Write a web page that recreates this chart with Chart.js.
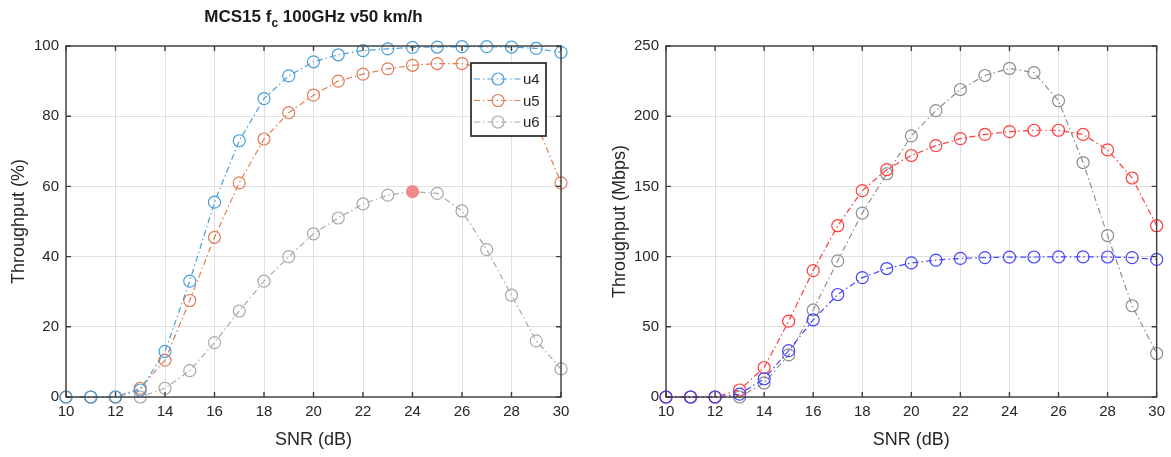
<!DOCTYPE html>
<html lang="en">
<head>
<meta charset="UTF-8">
<title>MCS15 fc 100GHz v50 km/h</title>
<script src="https://cdn.jsdelivr.net/npm/chart.js"></script>
<style>
  body {
    margin: 0;
    background: #fff;
    width: 1171px;
    height: 457px;
    overflow: hidden;
    position: relative;
  }
  .panel { position: absolute; top: 0; height: 457px; }
  #leftPanel { left: 0; width: 590px; }
  #rightPanel { left: 600px; width: 571px; }
</style>
</head>
<body>
<div class="panel" id="leftPanel"><canvas id="pctChart" width="590" height="457"></canvas></div>
<div class="panel" id="rightPanel"><canvas id="mbpsChart" width="571" height="457"></canvas></div>

<script>
// x values (SNR in dB) and tick labels
const snr = [10, 11, 12, 13, 14, 15, 16, 17, 18, 19, 20, 21, 22, 23, 24, 25, 26, 27, 28, 29, 30];
const xTicks = [10, 12, 14, 16, 18, 20, 22, 24, 26, 28, 30];
const pctTicks = [0, 20, 40, 60, 80, 100];
const mbpsTicks = [0, 50, 100, 150, 200, 250];

// left plot: throughput (%)
const u4 = [0, 0, 0, 2, 13, 33, 55.5, 73, 85, 91.5, 95.5, 97.5, 98.7, 99.2, 99.6, 99.7, 99.8, 99.8, 99.7, 99.3, 98.2];
const u5 = [0, 0, 0, 2.5, 10.5, 27.5, 45.5, 61, 73.5, 81, 86, 90, 92, 93.5, 94.5, 95, 95, 93.5, 88, 78, 61];
const u6 = [0, 0, 0, 0, 2.5, 7.5, 15.5, 24.5, 33, 40, 46.5, 51, 55, 57.5, 58.5, 58, 53, 42, 29, 16, 8];
const u6Marked = 24; // highlighted data point

// right plot: throughput (Mbps)
const blueMbps = [0, 0, 0, 2, 13, 33, 55, 73, 85, 91.5, 95.5, 97.5, 98.7, 99.3, 99.6, 99.7, 99.8, 99.8, 99.7, 99.3, 98];
const redMbps = [0, 0, 0, 5, 21, 54, 90, 122, 147, 162, 172, 179, 184, 187, 189, 190, 190, 187, 176, 156, 122];
const grayMbps = [0, 0, 0, 0, 10, 30, 62, 97, 131, 159, 186, 204, 219, 229, 234, 231, 211, 167, 115, 65, 31];

const FONT = "'Liberation Sans', Arial, sans-serif";
const TEXT = '#262626';
const DASHDOT = [6, 3, 1.5, 3];

Chart.defaults.font.family = FONT;
Chart.defaults.color = TEXT;

function series(label, values, color, extra) {
  return Object.assign({
    label: label,
    data: snr.map((x, i) => ({ x: x, y: values[i] })),
    borderColor: color,
    borderWidth: 1.2,
    borderDash: DASHDOT,
    tension: 0,
    pointStyle: 'circle',
    pointRadius: 6,
    pointBorderWidth: 1.2,
    pointBorderColor: color,
    pointBackgroundColor: 'rgba(0,0,0,0)',
    clip: false
  }, extra || {});
}

function scales(yTicks, yTitle, yTitlePad) {
  return {
    x: {
      type: 'linear',
      min: snr[0],
      max: snr[snr.length - 1],
      afterBuildTicks: s => { s.ticks = xTicks.map(v => ({ value: v })); },
      afterFit: s => { s.height = 60; },
      grid: { color: '#e0e0e0', drawTicks: false },
      border: { display: false },
      ticks: { padding: 6, font: { size: 15 }, color: TEXT, maxRotation: 0 },
      title: { display: true, text: 'SNR (dB)', font: { size: 18 }, color: TEXT, padding: { bottom: 6 } }
    },
    y: {
      min: yTicks[0],
      max: yTicks[yTicks.length - 1],
      afterBuildTicks: s => { s.ticks = yTicks.map(v => ({ value: v })); },
      afterFit: s => { s.width = 66; },
      grid: { color: '#e0e0e0', drawTicks: false },
      border: { display: false },
      ticks: { padding: 7, font: { size: 15 }, color: TEXT },
      title: { display: true, text: yTitle, font: { size: 18 }, color: TEXT, padding: { top: yTitlePad } }
    }
  };
}

// box round the plot area with inward ticks on every side
const framePlugin = {
  id: 'frame',
  afterDatasetsDraw(chart) {
    const { ctx, chartArea: a, scales: { x, y } } = chart;
    ctx.save();
    ctx.strokeStyle = '#3c3c3c';
    ctx.lineWidth = 1.4;
    ctx.setLineDash([]);
    ctx.strokeRect(a.left, a.top, a.right - a.left, a.bottom - a.top);
    ctx.beginPath();
    x.ticks.forEach(t => {
      const px = x.getPixelForValue(t.value);
      ctx.moveTo(px, a.bottom); ctx.lineTo(px, a.bottom - 5);
      ctx.moveTo(px, a.top); ctx.lineTo(px, a.top + 5);
    });
    y.ticks.forEach(t => {
      const py = y.getPixelForValue(t.value);
      ctx.moveTo(a.left, py); ctx.lineTo(a.left + 5, py);
      ctx.moveTo(a.right, py); ctx.lineTo(a.right - 5, py);
    });
    ctx.stroke();
    ctx.restore();
  }
};

// title with subscript c
const titlePlugin = {
  id: 'subTitle',
  afterDraw(chart) {
    const { ctx, chartArea: a } = chart;
    const parts = [
      { t: 'MCS15 f', size: 17, base: 22 },
      { t: 'c', size: 12, base: 27 },
      { t: ' 100GHz v50 km/h', size: 17, base: 22 }
    ];
    ctx.save();
    ctx.fillStyle = '#1a1a1a';
    ctx.textBaseline = 'alphabetic';
    let total = 0;
    parts.forEach(p => { ctx.font = 'bold ' + p.size + 'px ' + FONT; p.w = ctx.measureText(p.t).width; total += p.w; });
    let x = (a.left + a.right) / 2 - total / 2;
    parts.forEach(p => {
      ctx.font = 'bold ' + p.size + 'px ' + FONT;
      ctx.fillText(p.t, x, p.base);
      x += p.w;
    });
    ctx.restore();
  }
};

// MATLAB style legend box inside the plot, top right
const boxLegend = {
  id: 'boxLegend',
  afterDraw(chart) {
    const { ctx } = chart;
    const box = { left: 471, top: 63, right: 546, bottom: 136 };
    ctx.save();
    ctx.fillStyle = '#fff';
    ctx.fillRect(box.left, box.top, box.right - box.left, box.bottom - box.top);
    ctx.strokeStyle = '#333';
    ctx.lineWidth = 1.8;
    ctx.strokeRect(box.left, box.top, box.right - box.left, box.bottom - box.top);
    chart.data.datasets.forEach((ds, i) => {
      const y = box.top + 16 + i * 21.5;
      ctx.strokeStyle = ds.borderColor;
      ctx.lineWidth = 1.2;
      ctx.setLineDash(DASHDOT);
      ctx.beginPath();
      ctx.moveTo(box.left + 3, y); ctx.lineTo(box.left + 51, y);
      ctx.stroke();
      ctx.setLineDash([]);
      ctx.beginPath();
      ctx.arc(box.left + 27, y, 6, 0, Math.PI * 2);
      ctx.stroke();
      ctx.fillStyle = TEXT;
      ctx.font = '15px ' + FONT;
      ctx.textBaseline = 'middle';
      ctx.fillText(ds.label, box.left + 52, y + 1);
    });
    ctx.restore();
  }
};

new Chart(document.getElementById('pctChart'), {
  type: 'line',
  data: {
    datasets: [
      series('u4', u4, '#4a9fd8'),
      series('u5', u5, '#e27d55'),
      series('u6', u6, '#a9a9a9', {
        pointBackgroundColor: c => c.raw && c.raw.x === u6Marked ? '#f08a8a' : 'rgba(0,0,0,0)',
        pointBorderColor: c => c.raw && c.raw.x === u6Marked ? '#f08a8a' : '#a9a9a9'
      })
    ]
  },
  options: {
    responsive: false,
    animation: false,
    layout: { padding: { top: 46, right: 29, left: 0, bottom: 0 } },
    scales: scales(pctTicks, 'Throughput (%)', 8),
    plugins: { legend: { display: false }, tooltip: { enabled: false } }
  },
  plugins: [framePlugin, titlePlugin, boxLegend]
});

new Chart(document.getElementById('mbpsChart'), {
  type: 'line',
  data: {
    datasets: [
      series('blue', blueMbps, '#4444ff'),
      series('red', redMbps, '#ff3b3b'),
      series('gray', grayMbps, '#8e8e8e')
    ]
  },
  options: {
    responsive: false,
    animation: false,
    layout: { padding: { top: 46, right: 10, left: 0, bottom: 0 } },
    scales: scales(mbpsTicks, 'Throughput (Mbps)', 9),
    plugins: { legend: { display: false }, tooltip: { enabled: false } }
  },
  plugins: [framePlugin]
});
</script>
</body>
</html>
